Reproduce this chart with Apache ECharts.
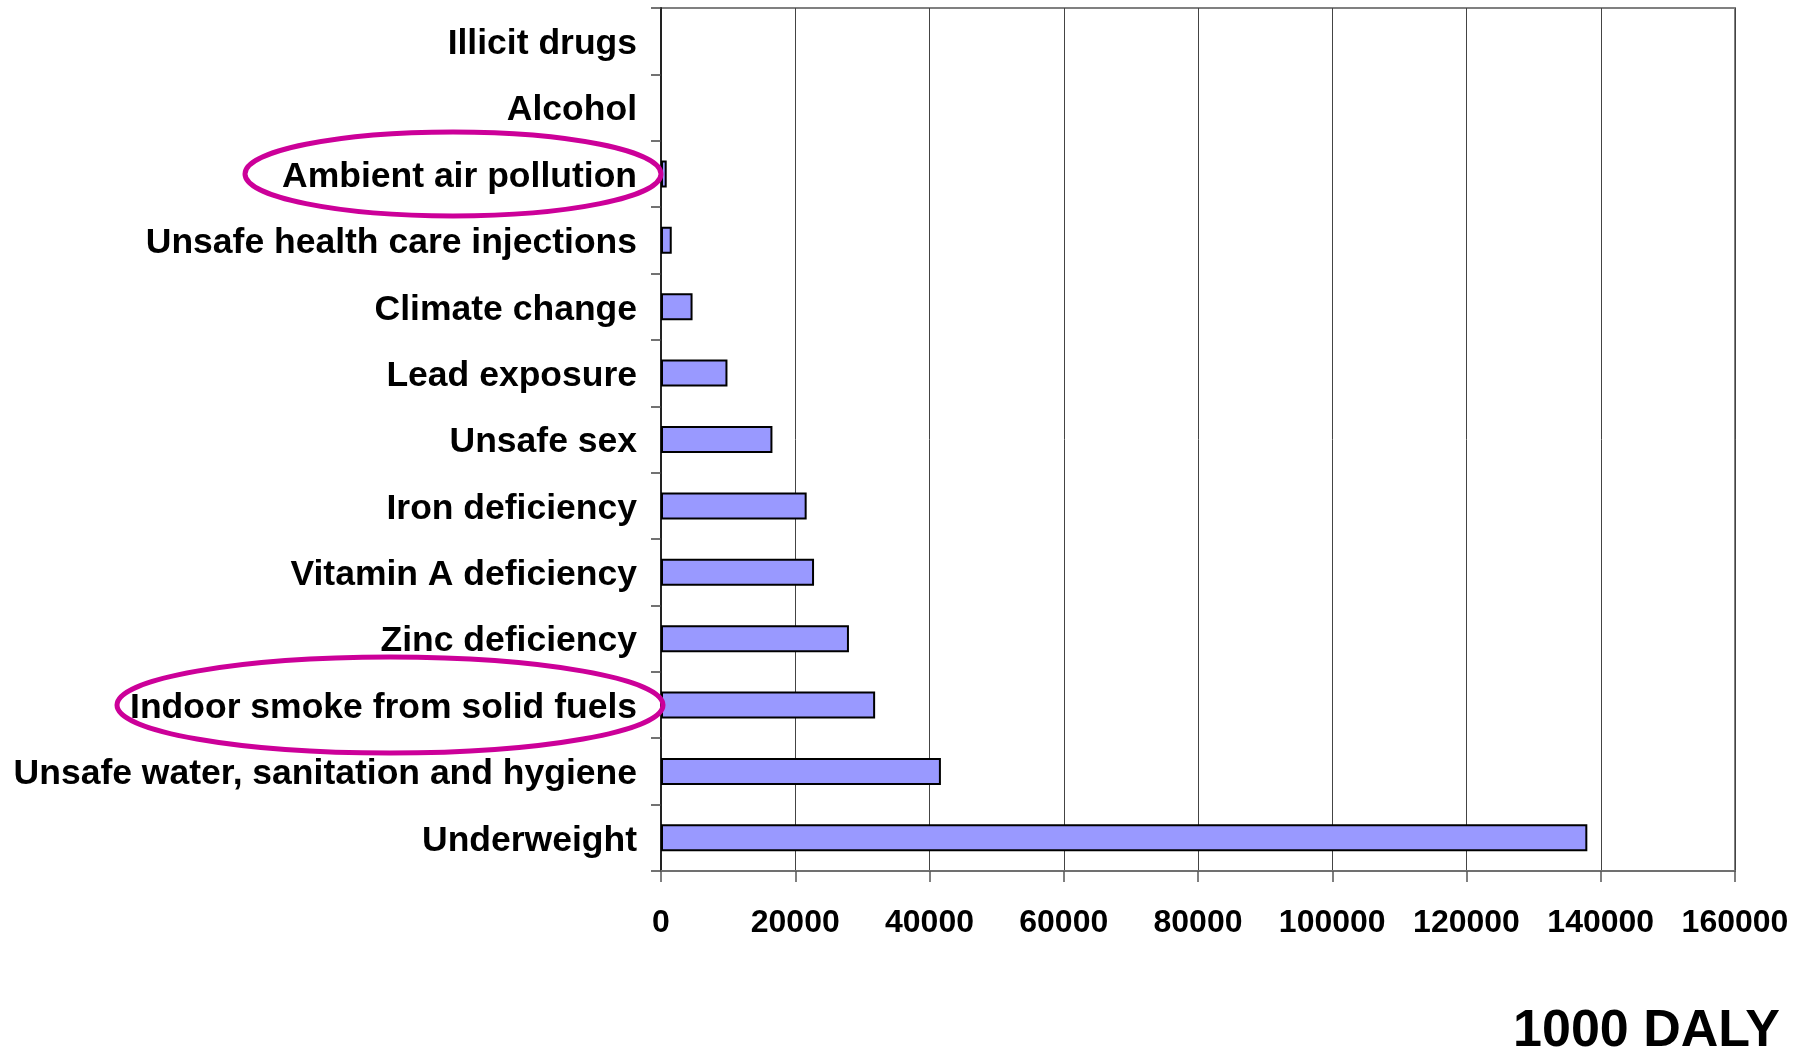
<!DOCTYPE html>
<html>
<head>
<meta charset="utf-8">
<script src="https://cdn.jsdelivr.net/npm/echarts@6/dist/echarts.min.js"></script>
<style>
  html, body { margin: 0; padding: 0; background: #fff; }
  #chart { width: 1810px; height: 1049px; }
</style>
</head>
<body>
<div id="chart"></div>
<script>
// Risk factors, listed bottom to top
const riskFactors = [
  'Underweight',
  'Unsafe water, sanitation and hygiene',
  'Indoor smoke from solid fuels',
  'Zinc deficiency',
  'Vitamin A deficiency',
  'Iron deficiency',
  'Unsafe sex',
  'Lead exposure',
  'Climate change',
  'Unsafe health care injections',
  'Ambient air pollution',
  'Alcohol',
  'Illicit drugs'
];

// Burden attributable to each risk factor, in thousands of DALYs
const dalyThousands = [
  138000, 41700, 31900, 28000, 22800, 21700, 16600,
  9900, 4700, 1600, 850, 0, 0
];

// Value axis ticks
const tickValues = [0, 20000, 40000, 60000, 80000, 100000, 120000, 140000, 160000];

// Risk factors circled for emphasis
const highlighted = ['Ambient air pollution', 'Indoor smoke from solid fuels'];

const FONT = '"Liberation Sans", Arial, sans-serif';

const chart = echarts.init(document.getElementById('chart'), null, { renderer: 'canvas' });

const option = {
  backgroundColor: '#ffffff',
  animation: false,
  title: {
    text: '1000 DALY',
    right: 25,
    top: 1001,
    textStyle: { fontFamily: FONT, fontWeight: 'bold', fontSize: 52, color: '#000' }
  },
  grid: {
    left: 661,
    right: 75,
    top: 8,
    bottom: 178,
    show: true,
    borderColor: '#808080',
    borderWidth: 2,
    backgroundColor: '#ffffff'
  },
  xAxis: {
    type: 'value',
    min: tickValues[0],
    max: tickValues[tickValues.length - 1],
    interval: tickValues[1] - tickValues[0],
    axisLine: { show: true, lineStyle: { color: '#707070', width: 2 } },
    axisTick: { show: true, length: 11, lineStyle: { color: '#555', width: 1.5 } },
    splitLine: { show: true, lineStyle: { color: '#444', width: 1 } },
    axisLabel: {
      margin: 36,
      fontFamily: FONT,
      fontWeight: 'bold',
      fontSize: 32,
      color: '#000',
      formatter: v => String(v)
    }
  },
  yAxis: {
    type: 'category',
    data: riskFactors,
    axisLine: { show: true, lineStyle: { color: '#222', width: 2 } },
    axisTick: { show: true, length: 10, lineStyle: { color: '#444', width: 1.5 } },
    splitLine: { show: false },
    axisLabel: {
      margin: 24,
      color: '#000',
      formatter: v => '{cat|' + v + '}',
      rich: {
        // extra top padding nudges each label slightly below the band centre
        cat: {
          fontFamily: FONT,
          fontWeight: 'bold',
          fontSize: 35.5,
          color: '#000',
          padding: [6, 0, 0, 0]
        }
      }
    }
  },
  series: [{
    type: 'bar',
    barWidth: 27,
    data: dalyThousands.map(v => v === 0 ? { value: 0, itemStyle: { borderWidth: 0 } } : v),
    itemStyle: {
      color: '#9999ff',
      borderColor: '#000',
      borderWidth: 2
    }
  }]
};

chart.setOption(option);

// Magenta ellipses around the emphasised category labels
const ellipseSpec = {
  'Ambient air pollution': { cx: 453, rx: 208, ry: 42 },
  'Indoor smoke from solid fuels': { cx: 390, rx: 273, ry: 48 }
};
const ellipses = highlighted.map(name => {
  const cy = chart.convertToPixel({ yAxisIndex: 0 }, name);
  const s = ellipseSpec[name];
  return {
    type: 'ellipse',
    shape: { cx: s.cx, cy: cy, rx: s.rx, ry: s.ry },
    style: { fill: null, stroke: '#cc0099', lineWidth: 5 },
    z: 100
  };
});
chart.setOption({ graphic: ellipses });
</script>
</body>
</html>
